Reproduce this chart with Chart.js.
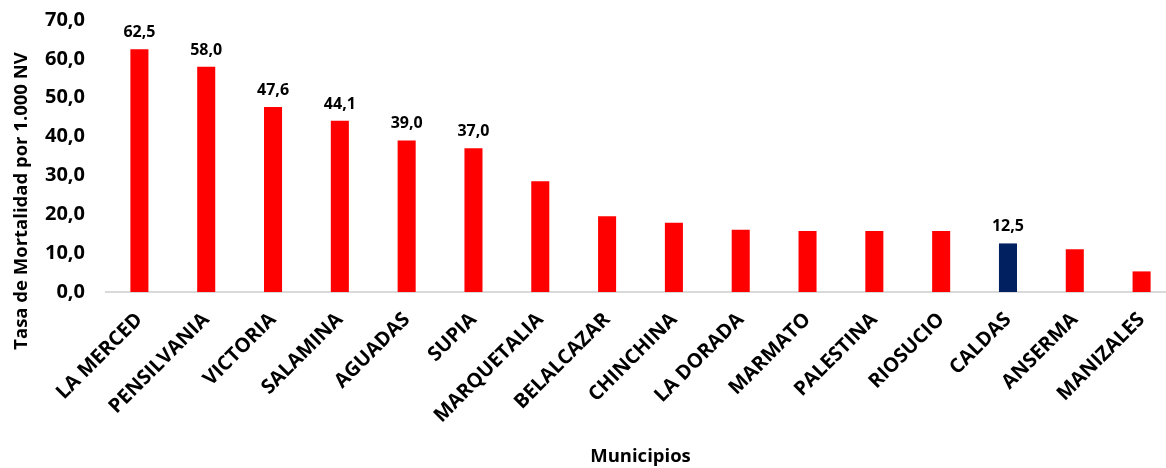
<!DOCTYPE html>
<html>
<head>
<meta charset="utf-8">
<script src="https://cdn.jsdelivr.net/npm/chart.js@4/dist/chart.umd.min.js"></script>
<style>
  html, body { margin: 0; padding: 0; background: #fff; overflow: hidden; }
</style>
</head>
<body>
<canvas id="grafico" width="1175" height="468"></canvas>
<script>
// tasa de mortalidad por municipio
var municipios = ['LA MERCED', 'PENSILVANIA', 'VICTORIA', 'SALAMINA', 'AGUADAS', 'SUPIA',
  'MARQUETALIA', 'BELALCAZAR', 'CHINCHINA', 'LA DORADA', 'MARMATO', 'PALESTINA',
  'RIOSUCIO', 'CALDAS', 'ANSERMA', 'MANIZALES'];
var tasas = [62.5, 58.0, 47.6, 44.1, 39.0, 37.0, 28.5, 19.5, 17.8, 16.0, 15.7, 15.7, 15.7, 12.5, 11.0, 5.3];
// solo estas barras llevan el valor encima
var conValor = ['LA MERCED', 'PENSILVANIA', 'VICTORIA', 'SALAMINA', 'AGUADAS', 'SUPIA', 'CALDAS'];
var departamento = 'CALDAS';
var ejeY = { min: 0, max: 70, paso: 10 };

var ROJO = '#ff0000';
var AZUL = '#002060';
var FUENTE = '"Open Sans", "Liberation Sans", sans-serif';

function coma(v) {
  return v.toFixed(1).replace('.', ',');
}

var colores = municipios.map(function (m) { return m === departamento ? AZUL : ROJO; });

// valores sobre las barras
var valoresPlugin = {
  id: 'valores',
  afterDatasetsDraw: function (chart) {
    var ctx = chart.ctx;
    var meta = chart.getDatasetMeta(0);
    ctx.save();
    ctx.font = 'bold 16px ' + FUENTE;
    ctx.fillStyle = '#000';
    ctx.textAlign = 'center';
    ctx.textBaseline = 'alphabetic';
    meta.data.forEach(function (bar, i) {
      if (conValor.indexOf(municipios[i]) === -1) return;
      ctx.fillText(coma(tasas[i]), bar.x, bar.y - 12);
    });
    ctx.restore();
  }
};

// titulo del eje Y, centrado entre el tope del grafico y el pie de las etiquetas
var tituloYPlugin = {
  id: 'tituloY',
  afterDraw: function (chart) {
    var ctx = chart.ctx;
    var cy = (chart.chartArea.top + 382) / 2;
    ctx.save();
    ctx.translate(22, cy);
    ctx.rotate(-Math.PI / 2);
    ctx.font = 'bold 18.5px ' + FUENTE;
    ctx.fillStyle = '#000';
    ctx.textAlign = 'center';
    ctx.textBaseline = 'middle';
    ctx.fillText('Tasa de Mortalidad por 1.000 NV', 0, 0);
    ctx.restore();
  }
};

new Chart(document.getElementById('grafico').getContext('2d'), {
  type: 'bar',
  data: {
    labels: municipios,
    datasets: [{
      data: tasas,
      backgroundColor: colores,
      barPercentage: 0.27,
      categoryPercentage: 1.0
    }]
  },
  options: {
    responsive: false,
    animation: false,
    devicePixelRatio: 1,
    layout: { padding: { top: 20, left: 0, right: 0, bottom: 0 } },
    plugins: {
      legend: { display: false },
      tooltip: { enabled: false }
    },
    scales: {
      x: {
        grid: { display: false },
        border: { color: '#d9d9d9', width: 2 },
        ticks: {
          autoSkip: false,
          maxRotation: 45,
          minRotation: 45,
          padding: 8,
          color: '#000',
          font: { family: FUENTE, size: 20, weight: 'bold' }
        },
        title: {
          display: true,
          text: 'Municipios',
          color: '#000',
          padding: { top: 0, bottom: 0 },
          font: { family: FUENTE, size: 18.5, weight: 'bold' }
        },
        afterFit: function (scale) { scale.height = 176; }
      },
      y: {
        min: ejeY.min,
        max: ejeY.max,
        grid: { display: false, drawTicks: false },
        border: { display: false },
        ticks: {
          stepSize: ejeY.paso,
          padding: 21,
          color: '#000',
          font: { family: FUENTE, size: 20, weight: 'bold' },
          callback: function (v) { return coma(v); }
        },
        afterFit: function (scale) {
          scale.width = 106;
          // el margen de las etiquetas no debe empujar el area del grafico
          scale.paddingTop = 0;
          scale.paddingBottom = 0;
        }
      }
    }
  },
  plugins: [valoresPlugin, tituloYPlugin]
});
</script>
</body>
</html>
